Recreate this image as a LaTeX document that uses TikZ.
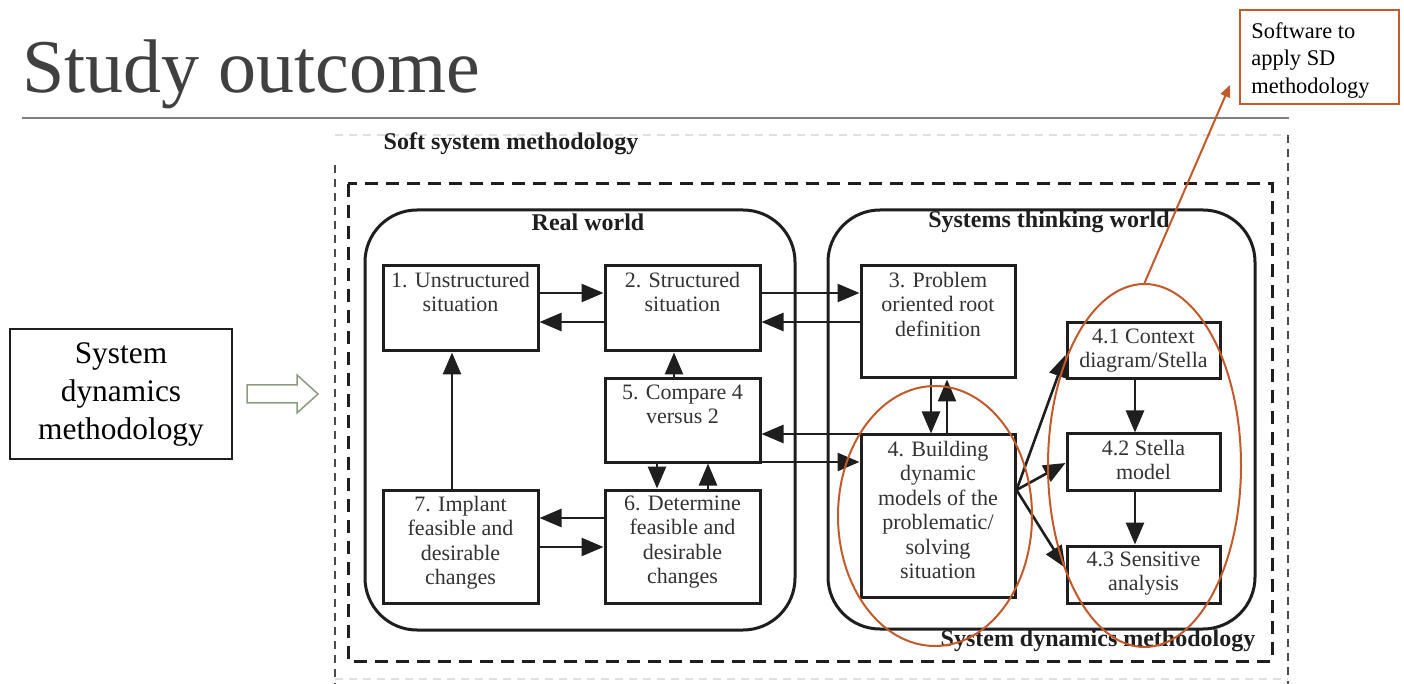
\documentclass[tikz,border=0pt]{standalone}
\usepackage{fontspec}
\setmainfont{Liberation Serif}
\usetikzlibrary{arrows.meta,shapes.geometric,calc}
\definecolor{ink}{HTML}{1E1E1E}
\definecolor{boxtext}{HTML}{333333}
\definecolor{rust}{HTML}{C25A2C}
\definecolor{sage}{HTML}{8C9C80}
\definecolor{titlegray}{HTML}{404040}
\definecolor{rulegray}{HTML}{808080}
\definecolor{faint}{HTML}{E0E0E0}

\begin{document}
\begin{tikzpicture}[x=0.5pt,y=-0.5pt,
  stepbox/.style={draw=ink, line width=1.5pt, minimum width=77.5pt, inner sep=0pt},
  subbox/.style={stepbox, minimum width=76.5pt},
  txt/.style={anchor=north, inner sep=0pt, yshift=-3.5pt, align=center,
    text=boxtext, font=\fontsize{11}{12.25}\selectfont},
  flow/.style={draw=ink, line width=1.3pt, -{Triangle[length=11pt,width=9pt]}},
  world/.style={draw=ink, line width=1.5pt, rounded corners=26pt, inner sep=0pt},
  hdr/.style={inner sep=0pt, text=ink, font=\fontsize{12}{14}\selectfont\bfseries},
  ring/.style={draw=rust, line width=1pt, ellipse, inner sep=0pt},
]
\useasboundingbox (0,0) rectangle (1404,684);
\fill[white] (0,0) rectangle (1404,684);

% slide title and rule
\node[anchor=base west, inner sep=0pt, text=titlegray,
  font=\fontsize{38}{46}\selectfont] (title) at (22,93) {Study outcome};
\draw[rulegray, line width=0.6pt] (22,118) -- (1289,118);

% callout box on the left and its hollow arrow
\node[draw=ink, line width=0.8pt, minimum width=111pt, minimum height=65pt,
  align=center, inner sep=0pt, font=\fontsize{15.7}{19}\selectfont] (sdm)
  at (121,394) {System\\dynamics\\methodology};
\draw[sage, line width=0.75pt, line join=miter]
  (247,385) -- (297,385) -- (297,375) -- (318,394) -- (297,413) -- (297,403)
  -- (247,403) -- cycle;

% software note
\node[draw=rust, line width=1pt, minimum width=79.5pt, minimum height=47pt,
  inner sep=0pt,
  label={[anchor=north west, inner sep=0pt, xshift=6pt, yshift=-6.5pt, align=left,
    font=\fontsize{11.2}{13.75}\selectfont]north west:{Software to\\apply SD\\methodology}}]
  (sw) at (1319.5,57) {};
\coordinate (swtip) at (1230,85);

% soft system methodology frame
\draw[faint, line width=0.8pt, dash pattern=on 4pt off 3pt] (335,135) -- (1288,135);
\draw[faint, line width=0.8pt, dash pattern=on 4pt off 3pt] (335,679) -- (1288,679);
\draw[ink!80, line width=0.8pt, dash pattern=on 4pt off 3pt] (335,165) -- (335,684);
\draw[ink!80, line width=0.8pt, dash pattern=on 4pt off 3pt] (1288,135) -- (1288,684);
\node[hdr] (ssm) at (511,144) {Soft system methodology};

% system dynamics frame
\draw[ink, line width=1.5pt, dash pattern=on 6.5pt off 4pt] (348,184) rectangle (1272,661);
\node[hdr] (sdl) at (1098,641) {System dynamics methodology};

% the two worlds
\node[world, minimum width=215pt, minimum height=210pt] (rw) at (580,420) {};
\node[world, minimum width=213.5pt, minimum height=209.5pt] (stw) at (1041.5,419.5) {};
\node[hdr] (rwt) at (588,222) {Real world};
\node[hdr] (stwt) at (1049,222) {Systems thinking world};

% process steps
\node[stepbox, minimum height=42.5pt, label={[txt]north:{1. Unstructured\\situation}}] (b1) at (460.5,308.5) {};
\node[stepbox, minimum height=42.5pt, label={[txt]north:{2. Structured\\situation}}] (b2) at (682.5,308.5) {};
\node[stepbox, minimum height=41.5pt, label={[txt]north:{5. Compare 4\\versus 2}}] (b5) at (682.5,420.5) {};
\node[stepbox, minimum height=56.5pt, label={[txt]north:{6. Determine\\feasible and\\desirable\\changes}}] (b6) at (682.5,546.5) {};
\node[stepbox, minimum height=56.5pt, label={[txt]north:{7. Implant\\feasible and\\desirable\\changes}}] (b7) at (460.5,546.5) {};
\node[stepbox, minimum width=77pt, minimum height=56pt, label={[txt]north:{3. Problem\\oriented root\\definition}}] (b3) at (938,322) {};
\node[stepbox, minimum width=77pt, minimum height=81pt, label={[txt]north:{4. Building\\dynamic\\models of the\\problematic/\\solving\\situation}}] (b4) at (938,516) {};
\node[subbox, minimum height=28pt, label={[txt]north:{4.1 Context\\diagram/Stella}}] (b41) at (1143.5,351) {};
\node[subbox, minimum height=28pt, label={[txt]north:{4.2 Stella\\model}}] (b42) at (1143.5,462) {};
\node[subbox, minimum height=28.5pt, label={[txt]north:{4.3 Sensitive\\analysis}}] (b43) at (1143.5,574.5) {};

% connections within the real world
\draw[flow] ([yshift=7.75pt]b1.east) -- ([yshift=7.75pt]b2.west);
\draw[flow] ([yshift=-6.75pt]b2.west) -- ([yshift=-6.75pt]b1.east);
\draw[flow] ([xshift=-4.25pt]b5.north) -- ([xshift=-4.25pt]b2.south);
\draw[flow] ([xshift=-4.25pt]b7.north) -- ([xshift=-4.25pt]b1.south);
\draw[flow] ([xshift=-12.75pt]b5.south) -- ([xshift=-12.75pt]b6.north);
\draw[flow] ([xshift=12.75pt]b6.north) -- ([xshift=12.75pt]b5.south);
\draw[flow] ([yshift=14.25pt]b6.west) -- ([yshift=14.25pt]b7.east);
\draw[flow] ([yshift=-0.25pt]b7.east) -- ([yshift=-0.25pt]b6.west);

% connections between the worlds
\draw[flow] ([yshift=7.75pt]b2.east) -- ([yshift=14.5pt]b3.west);
\draw[flow] (b3.west) -- ([yshift=-6.75pt]b2.east);
\draw[flow] ([yshift=41pt]b4.west) -- ([yshift=-6.75pt]b5.east);
\draw[flow] ([yshift=-20.75pt]b5.east) -- ([yshift=27pt]b4.west);

% connections within the systems thinking world
\draw[flow] ([xshift=-3.5pt]b3.south) -- ([xshift=-3.5pt]b4.north);
\draw[flow] ([xshift=4.5pt]b4.north) -- ([xshift=4.5pt]b3.south);
\coordinate (fan) at ([yshift=13pt]b4.east);
\draw[flow] (fan) -- ([yshift=-2pt]b41.west);
\draw[flow] (fan) -- ([yshift=-0.5pt]b42.west);
\draw[flow] (fan) -- ([yshift=3.25pt]b43.west);
\draw[flow] ([xshift=-4.25pt]b41.south) -- ([xshift=-4.25pt]b42.north);
\draw[flow] ([xshift=-4.25pt]b42.south) -- ([xshift=-4.25pt]b43.north);

% highlighted groups and the software pointer
\node[ring, minimum width=97pt, minimum height=130pt] (e1) at (935,516) {};
\node[ring, minimum width=96.5pt, minimum height=181.5pt] (e2) at (1144.5,465.5) {};
\draw[rust, line width=1pt, -{Triangle[length=6pt,width=5pt]}] (e2.north) -- (swtip);
\end{tikzpicture}
\end{document}
